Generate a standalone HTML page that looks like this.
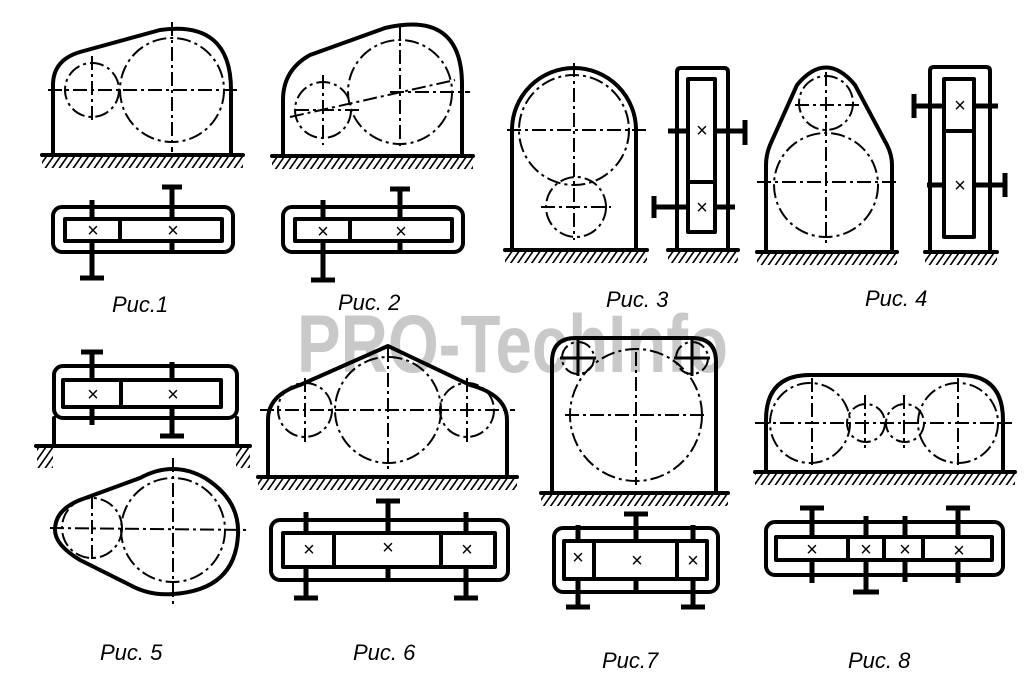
<!DOCTYPE html>
<html><head><meta charset="utf-8"><style>
html,body{margin:0;padding:0;background:#fff}
svg{display:block}
.t{stroke:#000;stroke-width:4;fill:none;stroke-linejoin:round;stroke-linecap:round}
.m{stroke:#000;stroke-width:3;fill:none}
.c{stroke:#000;stroke-width:2;fill:none;stroke-dasharray:14 4 3 4}
.s{stroke:#000;stroke-width:5;fill:none}
.w{fill:#fff}
.x{font-family:"Liberation Sans",sans-serif;font-size:20px;text-anchor:middle}
.l{font-family:"Liberation Sans","DejaVu Sans",sans-serif;font-style:italic;font-size:22px}
</style></head><body>
<svg width="1024" height="687" viewBox="0 0 1024 687" xmlns="http://www.w3.org/2000/svg">
<defs>
<pattern id="h" width="7" height="12" patternUnits="userSpaceOnUse" patternTransform="skewX(-35)">
<line x1="2" y1="0" x2="2" y2="12" stroke="#000" stroke-width="2"/>
</pattern>
</defs>
<rect width="1024" height="687" fill="#fff"/>
<text x="297" y="372" font-family="Liberation Sans,sans-serif" font-weight="bold" font-size="82" fill="#c9c9c9" textLength="431" lengthAdjust="spacingAndGlyphs">PRO-TechInfo</text>

<!-- ===== FIG 1 ===== -->
<path class="t" d="M53,155 V85 Q53,60 80,52 L160,30 Q231,20 231,90 V155"/>
<circle class="c" cx="172" cy="90" r="52"/><circle class="c" cx="92" cy="90" r="27"/>
<line class="c" x1="48" y1="90" x2="240" y2="90"/><line class="c" x1="172" y1="22" x2="172" y2="152"/>
<line class="c" x1="92" y1="56" x2="92" y2="124"/>
<line class="t" x1="42" y1="155" x2="243" y2="155"/><rect x="42" y="157" width="201" height="11" fill="url(#h)"/>
<rect class="t" x="53" y="207" width="180" height="45" rx="9"/>
<line class="s" x1="92" y1="200" x2="92" y2="278"/><line class="s" x1="80" y1="278" x2="104" y2="278"/>
<line class="s" x1="172" y1="187" x2="172" y2="252"/><line class="s" x1="162" y1="187" x2="182" y2="187"/>
<rect class="t w" x="65" y="219" width="157" height="22"/>
<line class="t" x1="120" y1="219" x2="120" y2="241"/>
<text class="x" x="93" y="237">×</text><text class="x" x="173" y="237">×</text>
<text class="l" x="112" y="312">Рuс.1</text>

<!-- ===== FIG 2 ===== -->
<path class="t" d="M283,155 V100 Q283,70 310,55 L385,28 Q462,10 462,85 V155"/>
<circle class="c" cx="400" cy="92" r="52"/><circle class="c" cx="323" cy="110" r="28"/>
<line class="c" x1="390" y1="92" x2="470" y2="92"/><line class="c" x1="290" y1="117" x2="455" y2="80"/>
<line class="c" x1="400" y1="25" x2="400" y2="150"/><line class="c" x1="323" y1="75" x2="323" y2="145"/>
<line class="c" x1="295" y1="110" x2="360" y2="110"/>
<line class="t" x1="272" y1="156" x2="473" y2="156"/><rect x="272" y="158" width="201" height="11" fill="url(#h)"/>
<rect class="t" x="283" y="207" width="180" height="45" rx="9"/>
<line class="s" x1="323" y1="200" x2="323" y2="280"/><line class="s" x1="311" y1="280" x2="335" y2="280"/>
<line class="s" x1="400" y1="189" x2="400" y2="252"/><line class="s" x1="390" y1="189" x2="410" y2="189"/>
<rect class="t w" x="295" y="219" width="157" height="22"/>
<line class="t" x1="350" y1="219" x2="350" y2="241"/>
<text class="x" x="323" y="238">×</text><text class="x" x="401" y="238">×</text>
<text class="l" x="338" y="310">Рuс. 2</text>

<!-- ===== FIG 3 ===== -->
<path class="t" d="M512,247 V130 A62,62 0 0 1 636,130 V247"/>
<circle class="c" cx="574" cy="130" r="55"/><circle class="c" cx="576" cy="207" r="30"/>
<line class="c" x1="507" y1="130" x2="647" y2="130"/><line class="c" x1="574" y1="63" x2="574" y2="240"/>
<line class="c" x1="541" y1="207" x2="611" y2="207"/>
<line class="t" x1="505" y1="250" x2="647" y2="250"/><rect x="505" y="252" width="142" height="11" fill="url(#h)"/>
<path class="t" d="M677,250 V72 Q677,68 681,68 H724 Q728,68 728,72 V250"/>
<line class="s" x1="668" y1="131" x2="745" y2="131"/><line class="s" x1="745" y1="120" x2="745" y2="145"/>
<line class="s" x1="654" y1="207" x2="735" y2="207"/><line class="s" x1="654" y1="196" x2="654" y2="218"/>
<rect class="t w" x="688" y="79" width="27" height="153"/>
<line class="t" x1="688" y1="182" x2="715" y2="182"/>
<text class="x" x="702" y="137">×</text><text class="x" x="702" y="214">×</text>
<line class="t" x1="668" y1="250" x2="738" y2="250"/><rect x="668" y="252" width="70" height="11" fill="url(#h)"/>
<text class="l" x="606" y="307">Рuс. 3</text>

<!-- ===== FIG 4 ===== -->
<path class="t" d="M766,252 V165 Q766,155 770,145 L797,85 Q826,50 855,85 L887,145 Q892,155 892,165 V252"/>
<circle class="c" cx="826" cy="103" r="27"/><circle class="c" cx="826" cy="185" r="52"/>
<line class="c" x1="757" y1="182" x2="900" y2="182"/><line class="c" x1="826" y1="72" x2="826" y2="245"/>
<line class="c" x1="795" y1="105" x2="860" y2="105"/>
<line class="t" x1="757" y1="252" x2="897" y2="252"/><rect x="757" y="254" width="140" height="11" fill="url(#h)"/>
<path class="t" d="M930,252 V71 Q930,67 934,67 H986 Q990,67 990,71 V252"/>
<line class="s" x1="914" y1="106" x2="998" y2="106"/><line class="s" x1="914" y1="94" x2="914" y2="118"/>
<line class="s" x1="927" y1="185" x2="1005" y2="185"/><line class="s" x1="1005" y1="173" x2="1005" y2="197"/>
<rect class="t w" x="944" y="79" width="30" height="158"/>
<line class="t" x1="944" y1="131" x2="974" y2="131"/>
<text class="x" x="960" y="112">×</text><text class="x" x="960" y="192">×</text>
<line class="t" x1="925" y1="252" x2="997" y2="252"/><rect x="925" y="254" width="72" height="11" fill="url(#h)"/>
<text class="l" x="865" y="306">Рuс. 4</text>

<!-- ===== FIG 5 ===== -->
<rect class="t" x="54" y="366" width="183" height="52" rx="9"/>
<line class="s" x1="92" y1="352" x2="92" y2="425"/><line class="s" x1="81" y1="352" x2="103" y2="352"/>
<line class="s" x1="172" y1="362" x2="172" y2="436"/><line class="s" x1="160" y1="436" x2="184" y2="436"/>
<rect class="t w" x="63" y="380" width="158" height="27"/>
<line class="t" x1="121" y1="380" x2="121" y2="407"/>
<text class="x" x="93" y="401">×</text><text class="x" x="173" y="401">×</text>
<line class="t" x1="54" y1="418" x2="54" y2="446"/><line class="t" x1="237" y1="418" x2="237" y2="446"/>
<line class="t" x1="36" y1="446" x2="250" y2="446"/>
<rect x="37" y="448" width="16" height="20" fill="url(#h)"/><rect x="236" y="448" width="14" height="20" fill="url(#h)"/>
<path class="t" d="M80,500 L140,478 Q173,460 205,478 Q240,500 238,535 Q235,590 173,594 Q150,596 130,585 L80,560 Q55,545 55,530 Q55,510 80,500 Z"/>
<circle class="c" cx="92" cy="528" r="30"/><circle class="c" cx="173" cy="530" r="52"/>
<line class="c" x1="50" y1="528" x2="250" y2="530"/><line class="c" x1="173" y1="458" x2="173" y2="605"/>
<line class="c" x1="92" y1="495" x2="92" y2="562"/>
<text class="l" x="100" y="660">Рuс. 5</text>

<!-- ===== FIG 6 ===== -->
<path class="t" d="M268,477 V420 Q268,395 300,385 L388,346 L470,385 Q507,395 507,420 V477"/>
<circle class="c" cx="305" cy="410" r="27"/><circle class="c" cx="388" cy="410" r="53"/><circle class="c" cx="467" cy="410" r="27"/>
<line class="c" x1="260" y1="410" x2="515" y2="410"/><line class="c" x1="388" y1="348" x2="388" y2="472"/>
<line class="c" x1="305" y1="378" x2="305" y2="445"/><line class="c" x1="467" y1="378" x2="467" y2="445"/>
<line class="t" x1="258" y1="477" x2="517" y2="477"/><rect x="258" y="479" width="259" height="11" fill="url(#h)"/>
<rect class="t" x="271" y="520" width="237" height="60" rx="9"/>
<line class="s" x1="388" y1="501" x2="388" y2="582"/><line class="s" x1="376" y1="501" x2="400" y2="501"/>
<line class="s" x1="306" y1="512" x2="306" y2="598"/><line class="s" x1="294" y1="598" x2="318" y2="598"/>
<line class="s" x1="466" y1="512" x2="466" y2="598"/><line class="s" x1="454" y1="598" x2="478" y2="598"/>
<rect class="t w" x="283" y="533" width="212" height="34"/>
<line class="t" x1="334" y1="533" x2="334" y2="567"/><line class="t" x1="441" y1="533" x2="441" y2="567"/>
<text class="x" x="309" y="556">×</text><text class="x" x="388" y="554">×</text><text class="x" x="467" y="556">×</text>
<text class="l" x="353" y="660">Рuс. 6</text>

<!-- ===== FIG 7 ===== -->
<path class="t" d="M552,492 V362 Q552,338 576,338 H692 Q716,338 716,362 V492"/>
<circle class="c" cx="636" cy="415" r="66"/><circle class="c" cx="578" cy="358" r="16"/><circle class="c" cx="692" cy="358" r="16"/>
<line class="c" x1="565" y1="415" x2="708" y2="415"/><line class="c" x1="636" y1="352" x2="636" y2="485"/>
<line class="m" x1="560" y1="358" x2="596" y2="358"/><line class="m" x1="578" y1="340" x2="578" y2="376"/>
<line class="m" x1="674" y1="358" x2="710" y2="358"/><line class="m" x1="692" y1="340" x2="692" y2="376"/>
<line class="t" x1="541" y1="493" x2="728" y2="493"/><rect x="541" y="495" width="187" height="11" fill="url(#h)"/>
<rect class="t" x="554" y="528" width="164" height="64" rx="9"/>
<line class="s" x1="636" y1="514" x2="636" y2="594"/><line class="s" x1="624" y1="514" x2="648" y2="514"/>
<line class="s" x1="578" y1="525" x2="578" y2="607"/><line class="s" x1="566" y1="607" x2="590" y2="607"/>
<line class="s" x1="693" y1="525" x2="693" y2="607"/><line class="s" x1="681" y1="607" x2="705" y2="607"/>
<rect class="t w" x="564" y="541" width="143" height="38"/>
<line class="t" x1="594" y1="541" x2="594" y2="579"/><line class="t" x1="677" y1="541" x2="677" y2="579"/>
<text class="x" x="578" y="564">×</text><text class="x" x="637" y="567">×</text><text class="x" x="693" y="567">×</text>
<text class="l" x="602" y="668">Рuс.7</text>

<!-- ===== FIG 8 ===== -->
<path class="t" d="M766,470 V420 Q766,375 810,375 H960 Q1003,375 1003,420 V470"/>
<circle class="c" cx="810" cy="423" r="40"/><circle class="c" cx="866" cy="423" r="19"/><circle class="c" cx="905" cy="423" r="19"/><circle class="c" cx="958" cy="423" r="40"/>
<line class="c" x1="755" y1="423" x2="1012" y2="423"/>
<line class="c" x1="812" y1="378" x2="812" y2="465"/><line class="c" x1="958" y1="378" x2="958" y2="465"/>
<line class="c" x1="865" y1="395" x2="865" y2="448"/><line class="c" x1="904" y1="395" x2="904" y2="448"/>
<line class="t" x1="755" y1="472" x2="1015" y2="472"/><rect x="755" y="474" width="260" height="11" fill="url(#h)"/>
<rect class="t" x="766" y="522" width="237" height="53" rx="9"/>
<line class="s" x1="812" y1="508" x2="812" y2="583"/><line class="s" x1="800" y1="508" x2="824" y2="508"/>
<line class="s" x1="958" y1="508" x2="958" y2="583"/><line class="s" x1="946" y1="508" x2="970" y2="508"/>
<line class="s" x1="866" y1="516" x2="866" y2="592"/><line class="s" x1="853" y1="592" x2="879" y2="592"/>
<line class="s" x1="905" y1="516" x2="905" y2="582"/>
<rect class="t w" x="776" y="537" width="216" height="23"/>
<line class="t" x1="848" y1="537" x2="848" y2="560"/><line class="t" x1="884" y1="537" x2="884" y2="560"/><line class="t" x1="923" y1="537" x2="923" y2="560"/>
<text class="x" x="812" y="556">×</text><text class="x" x="866" y="556">×</text><text class="x" x="905" y="556">×</text><text class="x" x="959" y="557">×</text>
<text class="l" x="848" y="668">Рuс. 8</text>
</svg>
</body></html>
